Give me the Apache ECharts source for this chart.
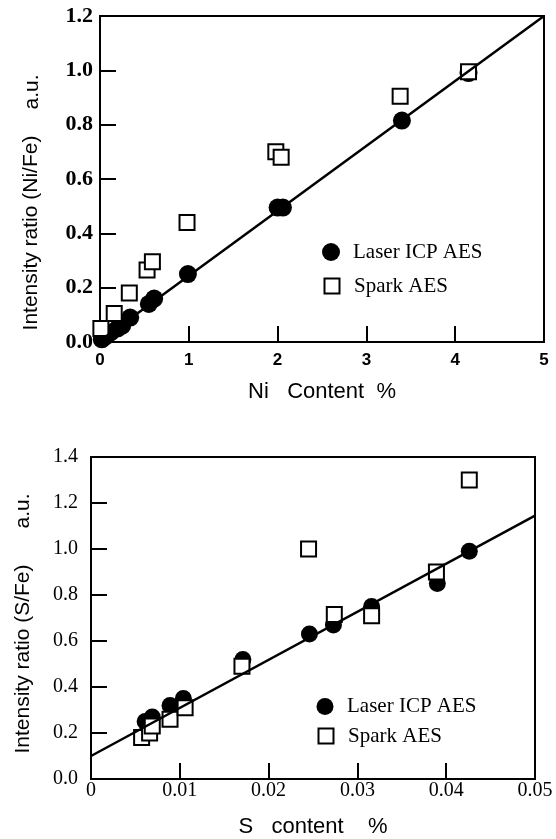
<!DOCTYPE html>
<html>
<head>
<meta charset="utf-8">
<script src="https://cdn.jsdelivr.net/npm/echarts@6/dist/echarts.min.js"></script>
<style>
  html, body { margin: 0; padding: 0; background: #fff; }
  #chart { width: 556px; height: 839px; }
</style>
</head>
<body>
<div id="chart"></div>
<script>
// 上图：Ni 含量
const niLaser = [[0.02, 0.01], [0.06, 0.02], [0.12, 0.035], [0.2, 0.05], [0.25, 0.06], [0.34, 0.09],
  [0.55, 0.14], [0.61, 0.16], [0.99, 0.25], [2.0, 0.495], [2.06, 0.495], [3.4, 0.815], [4.15, 0.99]];
const niSpark = [[0.01, 0.05], [0.16, 0.105], [0.33, 0.18], [0.53, 0.265], [0.59, 0.295], [0.98, 0.44],
  [1.98, 0.70], [2.04, 0.68], [3.38, 0.905], [4.15, 0.995]];
const niFit = [[0, 0.005], [5, 1.2]];
const niXTicks = ['0', '1', '2', '3', '4', '5'];
const niYTicks = ['0.0', '0.2', '0.4', '0.6', '0.8', '1.0', '1.2'];

// 下图：S 含量
const sLaser = [[0.0061, 0.25], [0.0069, 0.27], [0.0089, 0.32], [0.0104, 0.35], [0.0171, 0.52],
  [0.0246, 0.63], [0.0273, 0.67], [0.0316, 0.75], [0.039, 0.85], [0.0426, 0.99]];
const sSpark = [[0.0057, 0.18], [0.0066, 0.20], [0.0069, 0.23], [0.0089, 0.26], [0.0106, 0.31],
  [0.0170, 0.49], [0.0245, 1.0], [0.0274, 0.715], [0.0316, 0.71], [0.0389, 0.90], [0.0426, 1.30]];
const sFit = [[0, 0.1], [0.05, 1.145]];
const sXTicks = ['0', '0.01', '0.02', '0.03', '0.04', '0.05'];
const sYTicks = ['0.0', '0.2', '0.4', '0.6', '0.8', '1.0', '1.2', '1.4'];

const serif = '"Liberation Serif", "Times New Roman", serif';
const sans = '"Liberation Sans", Arial, sans-serif';
const ink = '#000';

const axisCommon = {
    axisLine: { lineStyle: { color: ink, width: 2 } },
    axisTick: { inside: true, length: 16, lineStyle: { color: ink, width: 2 } },
    splitLine: { show: false }
};

const laserStyle = { color: ink, opacity: 1 };
const sparkStyle = { color: '#fff', borderColor: ink, borderWidth: 2, opacity: 1 };

const chart = echarts.init(document.getElementById('chart'));
chart.setOption({
    animation: false,
    grid: [
        { left: 100, top: 16, width: 444, height: 326, show: true, borderColor: ink, borderWidth: 2 },
        { left: 91, top: 457, width: 444, height: 326, show: true, borderColor: ink, borderWidth: 2 }
    ],
    xAxis: [
        {
            ...axisCommon, gridIndex: 0, type: 'value', min: 0, max: 5, interval: 1,
            axisLabel: { margin: 10, color: ink, fontFamily: sans, fontWeight: 'bold', fontSize: 17,
                formatter: (v, i) => niXTicks[i] },
            name: 'Ni   Content  %', nameLocation: 'middle', nameGap: 39,
            nameTextStyle: { color: ink, fontFamily: sans, fontSize: 22 }
        },
        {
            ...axisCommon, gridIndex: 1, type: 'value', min: 0, max: 0.05, interval: 0.01,
            axisLabel: { margin: 2, color: ink, fontFamily: serif, fontSize: 20,
                formatter: (v, i) => sXTicks[i] },
            name: 'S   content    %', nameLocation: 'middle', nameGap: 37,
            nameTextStyle: { color: ink, fontFamily: sans, fontSize: 22 }
        }
    ],
    yAxis: [
        {
            ...axisCommon, gridIndex: 0, type: 'value', min: 0, max: 1.2, interval: 0.2,
            axisLabel: { margin: 7, color: ink, fontFamily: serif, fontWeight: 'bold', fontSize: 22,
                formatter: (v, i) => niYTicks[i] }
        },
        {
            ...axisCommon, gridIndex: 1, type: 'value', min: 0, max: 1.4, interval: 0.2,
            axisLabel: { margin: 13, color: ink, fontFamily: serif, fontSize: 20,
                formatter: (v, i) => sYTicks[i] }
        }
    ],
    legend: [
        { data: ['Laser ICP AES'], orient: 'vertical', left: 322, top: 241.5, padding: 0,
            itemWidth: 18, itemHeight: 18, selectedMode: false,
            textStyle: { fontFamily: serif, fontSize: 21, color: ink, padding: [0, 0, 0, 8] } },
        { data: ['Spark AES'], orient: 'vertical', left: 323.5, top: 275.5, padding: 0,
            itemWidth: 15, itemHeight: 15, selectedMode: false,
            textStyle: { fontFamily: serif, fontSize: 21, color: ink, padding: [0, 0, 0, 9.5] } },
        { data: ['Laser ICP AES'], orient: 'vertical', left: 316.5, top: 696, padding: 0,
            itemWidth: 17, itemHeight: 17, selectedMode: false,
            textStyle: { fontFamily: serif, fontSize: 21, color: ink, padding: [0, 0, 0, 8.5] } },
        { data: ['Spark AES'], orient: 'vertical', left: 317.5, top: 725.5, padding: 0,
            itemWidth: 15, itemHeight: 15, selectedMode: false,
            textStyle: { fontFamily: serif, fontSize: 21, color: ink, padding: [0, 0, 0, 9.5] } }
    ],
    graphic: [
        { type: 'text', x: 31, y: 233, rotation: Math.PI / 2,
            style: { text: 'Intensity ratio (Ni/Fe)', font: '21px ' + sans, fill: ink, textAlign: 'center', textVerticalAlign: 'middle' } },
        { type: 'text', x: 32, y: 92, rotation: Math.PI / 2,
            style: { text: 'a.u.', font: '21px ' + sans, fill: ink, textAlign: 'center', textVerticalAlign: 'middle' } },
        { type: 'text', x: 23, y: 659, rotation: Math.PI / 2,
            style: { text: 'Intensity ratio (S/Fe)', font: '21px ' + sans, fill: ink, textAlign: 'center', textVerticalAlign: 'middle' } },
        { type: 'text', x: 23, y: 511, rotation: Math.PI / 2,
            style: { text: 'a.u.', font: '21px ' + sans, fill: ink, textAlign: 'center', textVerticalAlign: 'middle' } }
    ],
    series: [
        { type: 'line', xAxisIndex: 0, yAxisIndex: 0, data: niFit, symbol: 'none', silent: true,
            lineStyle: { color: ink, width: 2.5 } },
        { name: 'Laser ICP AES', type: 'scatter', xAxisIndex: 0, yAxisIndex: 0, data: niLaser,
            symbol: 'circle', symbolSize: 18, itemStyle: laserStyle },
        { name: 'Spark AES', type: 'scatter', xAxisIndex: 0, yAxisIndex: 0, data: niSpark,
            symbol: 'rect', symbolSize: 15, itemStyle: sparkStyle },
        { type: 'line', xAxisIndex: 1, yAxisIndex: 1, data: sFit, symbol: 'none', silent: true,
            lineStyle: { color: ink, width: 2.5 } },
        { name: 'Laser ICP AES', type: 'scatter', xAxisIndex: 1, yAxisIndex: 1, data: sLaser,
            symbol: 'circle', symbolSize: 17, itemStyle: laserStyle },
        { name: 'Spark AES', type: 'scatter', xAxisIndex: 1, yAxisIndex: 1, data: sSpark,
            symbol: 'rect', symbolSize: 15, itemStyle: sparkStyle }
    ]
});

window.addEventListener('resize', () => chart.resize());
</script>
</body>
</html>
